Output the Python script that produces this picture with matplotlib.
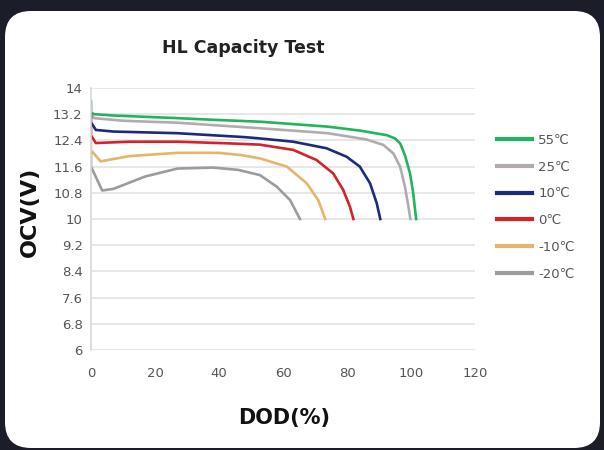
import matplotlib
matplotlib.use("Agg")
import matplotlib.pyplot as plt
from matplotlib.patches import FancyBboxPatch

# DOD (%) / OCV (V)
dod_55 = [0, 0, 1, 7, 27, 38, 53, 74, 84, 92.4, 95, 96.6, 98.1, 99.7, 100.7, 101.6]
ocv_55 = [13.6, 13.25, 13.2, 13.16, 13.08, 13.03, 12.97, 12.82, 12.70, 12.56, 12.46, 12.31, 11.95, 11.39, 10.78, 10.0]

dod_25 = [0, 0, 1, 10, 27, 53, 74, 86, 91.4, 94.5, 96.6, 98.1, 99.2, 99.8]
ocv_25 = [13.4, 13.2, 13.08, 13.0, 12.94, 12.77, 12.62, 12.43, 12.26, 12.0, 11.6, 10.99, 10.38, 10.0]

dod_10 = [0, 0, 1.5, 7, 27, 48, 52.8, 63.2, 73.6, 79.9, 84, 87.2, 89.3, 90.4]
ocv_10 = [13.2, 12.95, 12.72, 12.67, 12.62, 12.5, 12.46, 12.36, 12.16, 11.9, 11.6, 11.09, 10.48, 10.0]

dod_0 = [0, 0, 1.5, 12, 27, 43, 52.8, 63.2, 70.5, 75.7, 78.8, 80.9, 82]
ocv_0 = [12.8, 12.55, 12.32, 12.36, 12.36, 12.31, 12.27, 12.11, 11.8, 11.39, 10.89, 10.38, 10.0]

dod_m10 = [0, 0, 3, 12, 27, 40, 47, 52.8, 61.2, 67.4, 71, 73.2]
ocv_m10 = [12.4, 12.1, 11.76, 11.92, 12.02, 12.02, 11.95, 11.85, 11.6, 11.09, 10.58, 10.0]

dod_m20 = [0, 0, 3.5, 7, 17, 27, 38, 46, 52.8, 58, 62.2, 65.3]
ocv_m20 = [12.0, 11.6, 10.87, 10.92, 11.3, 11.54, 11.57, 11.5, 11.34, 10.99, 10.58, 10.0]

labels = ["55\u2103", "25\u2103", "10\u2103", "0\u2103", "-10\u2103", "-20\u2103"]
colors = ["#20b45c", "#b3abab", "#1c2b7c", "#d3222a", "#e6b56c", "#9c9c9c"]
series = [(dod_55, ocv_55), (dod_25, ocv_25), (dod_10, ocv_10),
          (dod_0, ocv_0), (dod_m10, ocv_m10), (dod_m20, ocv_m20)]

y_ticks = [6, 6.8, 7.6, 8.4, 9.2, 10, 10.8, 11.6, 12.4, 13.2, 14]
y_tick_labels = ["6", "6.8", "7.6", "8.4", "9.2", "10", "10.8", "11.6", "12.4", "13.2", "14"]
x_ticks = [0, 20, 40, 60, 80, 100, 120]

fig = plt.figure(figsize=(6.04, 4.5), dpi=100)
fig.patch.set_facecolor("#1b1e28")

# white rounded card drawn in a background axes
bg = fig.add_axes([0, 0, 1, 1], zorder=-1)
bg.set_xlim(0, 604)
bg.set_ylim(450, 0)
bg.axis("off")
card = FancyBboxPatch((5, 11), 595, 437,
                      boxstyle="round,pad=0,rounding_size=26",
                      facecolor="white", edgecolor="none")
bg.add_patch(card)

ax = fig.add_axes([91 / 604, 1 - 350 / 450, 384 / 604, 262 / 450])
ax.set_facecolor("none")

for (x, y), c, lab in zip(series, colors, labels):
    ax.plot(x, y, color=c, lw=1.9, label=lab, solid_joinstyle="round")

ax.set_xlim(0, 120)
ax.set_ylim(6, 14)
ax.set_xticks(x_ticks)
ax.set_yticks(y_ticks)
ax.set_yticklabels(y_tick_labels)
ax.grid(axis="y", color="#e3e3e3", lw=1.2)
ax.set_axisbelow(True)
for s in ["top", "right", "bottom"]:
    ax.spines[s].set_visible(False)
ax.spines["left"].set_color("#d8d8d8")
ax.spines["left"].set_linewidth(1.2)
ax.tick_params(length=0, labelsize=9.5, labelcolor="#555555", pad=6)
ax.tick_params(axis="x", pad=12)

fig.text(243 / 604, 1 - 48 / 450, "HL Capacity Test", ha="center", va="center",
         fontsize=12.5, fontweight="bold", color="#222222")
fig.text(30 / 604, 1 - 212 / 450, "OCV(V)", ha="center", va="center", rotation=90,
         fontsize=16, fontweight="bold", color="#111111")
fig.text(284 / 604, 1 - 418 / 450, "DOD(%)", ha="center", va="center",
         fontsize=15, fontweight="bold", color="#111111")

leg = ax.legend(loc="upper left", bbox_to_anchor=(1.043, 0.845), frameon=False,
                fontsize=9.5, handlelength=2.7, handletextpad=0.45,
                labelspacing=1.04, borderaxespad=0)
for t in leg.get_texts():
    t.set_color("#555555")
for h in leg.get_lines():
    h.set_linewidth(3)

fig.savefig("out.png", dpi=100, facecolor=fig.get_facecolor())
